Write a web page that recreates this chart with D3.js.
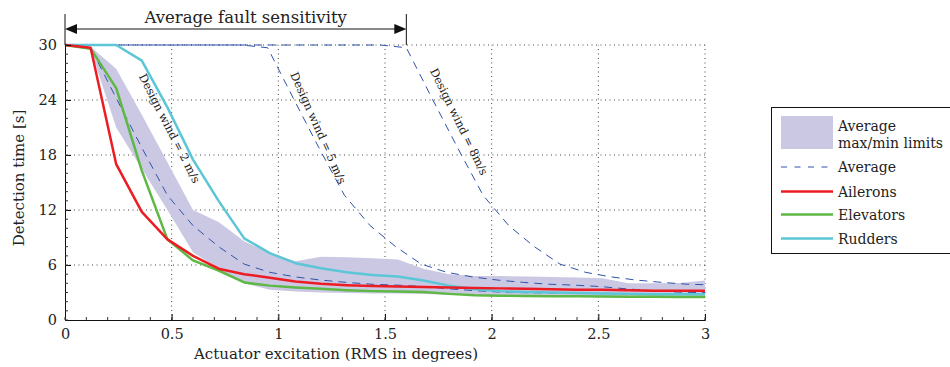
<!DOCTYPE html>
<html><head><meta charset="utf-8">
<script src="https://cdn.jsdelivr.net/npm/d3@7"></script>
<style>
body{margin:0;background:#fff;}
text{font-family:"DejaVu Serif",serif;fill:#222;}
</style></head>
<body><svg id="c" width="950" height="367"></svg>
<script>
// ---- data ----
const xs = [0,0.12,0.24,0.36,0.48,0.6,0.72,0.84,0.96,1.08,1.2,1.32,1.44,1.56,1.68,1.8,1.92,2.04,2.16,2.28,2.4,2.52,2.64,2.76,2.88,3.0];
const ailerons  = [30,29.7,17.0,11.8,8.8,7.0,5.6,5.0,4.6,4.2,3.95,3.8,3.7,3.65,3.6,3.55,3.5,3.45,3.4,3.35,3.3,3.3,3.25,3.2,3.2,3.2];
const elevators = [30,29.6,25.3,16.3,8.8,6.5,5.4,4.1,3.75,3.55,3.4,3.25,3.15,3.1,3.05,2.85,2.7,2.65,2.62,2.6,2.58,2.56,2.55,2.53,2.52,2.5];
const rudders   = [30,30,30,28.3,23.2,17.5,13.0,8.9,7.3,6.2,5.65,5.2,4.9,4.75,4.3,3.75,3.35,3.15,3.05,3.0,2.95,2.9,2.85,2.82,2.8,2.8];
const average   = [30,29.7,24.2,18.8,13.6,10.3,8.0,6.1,5.2,4.7,4.35,4.1,3.9,3.8,3.65,3.4,3.2,3.05,2.98,2.95,2.92,2.9,2.9,2.88,2.87,2.87];
const bandUpper = [30,29.8,27.4,22.4,17.2,12.0,10.7,8.6,7.3,6.4,6.9,6.85,6.75,6.6,5.6,5.0,4.8,4.8,4.75,4.7,4.65,4.55,4.0,4.0,4.05,4.3];
const bandLower = [30,29.5,21.0,16.5,12.0,7.4,5.6,4.0,3.3,3.1,3.0,2.95,2.9,2.9,2.85,2.75,2.7,2.65,2.62,2.6,2.58,2.56,2.55,2.53,2.52,2.5];
const wind5x = [0,0.83,0.95,1.07,1.19,1.31,1.43,1.55,1.67,1.79,1.91,2.03,2.15,2.27,2.39,2.51,2.63,2.75,2.87,3.0];
const wind5y = [30,30,29.7,24.2,18.8,13.6,10.3,8.0,6.1,5.2,4.7,4.35,4.1,3.9,3.8,3.65,3.4,3.2,3.05,2.98];
const wind8x = [0,1.48,1.6,1.72,1.84,1.96,2.08,2.2,2.32,2.44,2.56,2.68,2.8,2.92,3.0];
const wind8y = [30,30,29.7,24.2,18.8,13.6,10.3,8.0,6.1,5.2,4.7,4.35,4.1,3.9,3.85];
const xTicks = [0,0.5,1,1.5,2,2.5,3];
const xTickLabels = ["0","0.5","1","1.5","2","2.5","3"];
const yTicks = [0,6,12,18,24,30];
const legendLabels = ["Average","Ailerons","Elevators","Rudders"];
const sensitivityEnd = 1.6;

// ---- layout ----
const svg = d3.select("#c");
const L=65, R=705, T=45, B=320;
const x = d3.scaleLinear().domain([0,3]).range([L,R]);
const y = d3.scaleLinear().domain([0,30]).range([B,T]);
const C = {red:"#ec1c24", green:"#5db844", cyan:"#5bc6d6", band:"#cbc8e4", blue:"#2f52a8"};

// grid
const g = svg.append("g");
g.selectAll(".gx").data(xTicks.slice(1)).join("line")
  .attr("x1",d=>x(d)).attr("x2",d=>x(d)).attr("y1",B).attr("y2",T)
  .attr("stroke","#444").attr("stroke-width",1).attr("stroke-dasharray","1,3.5");
g.selectAll(".gy").data(yTicks.slice(1)).join("line")
  .attr("x1",L).attr("x2",R).attr("y1",d=>y(d)).attr("y2",d=>y(d))
  .attr("stroke","#444").attr("stroke-width",1).attr("stroke-dasharray","1,3.5");

// band
const area = d3.area().x((d,i)=>x(xs[i])).y0((d,i)=>y(bandLower[i])).y1((d,i)=>y(bandUpper[i]));
svg.append("path").attr("d",area(xs)).attr("fill",C.band);

const line = d3.line();
function path(xa, ya, color, w, dash){
  const p = svg.append("path").attr("d", line(xa.map((v,i)=>[x(v),y(ya[i])])))
    .attr("fill","none").attr("stroke",color).attr("stroke-width",w).attr("stroke-linejoin","round");
  if(dash) p.attr("stroke-dasharray",dash);
  return p;
}
path(wind5x, wind5y, C.blue, 1, "8,6");
path(wind8x, wind8y, C.blue, 1, "8,6").attr("stroke-dashoffset", 7);
path(xs, average, C.blue, 1, "8,6");
path(xs, rudders, C.cyan, 2.5);
path(xs, elevators, C.green, 2.5);
path(xs, ailerons, C.red, 2.5);

// axes
const ax = svg.append("g").attr("transform",`translate(0,${B})`)
  .call(d3.axisBottom(x).tickValues(xTicks).tickFormat((d,i)=>xTickLabels[i]).tickSize(-6).tickPadding(9));
const ay = svg.append("g").attr("transform",`translate(${L},0)`)
  .call(d3.axisLeft(y).tickValues(yTicks).tickSize(-6).tickPadding(8));
[ax,ay].forEach(a=>{
  a.select(".domain").attr("stroke","#111");
  a.selectAll(".tick line").attr("stroke","#111");
  a.selectAll("text").style("font-family","'DejaVu Serif',serif").style("font-size","14.5px").attr("fill","#222");
});
// minor ticks
svg.append("g").selectAll("line").data(d3.range(0,3.001,0.1)).join("line")
  .attr("x1",d=>x(d)).attr("x2",d=>x(d)).attr("y1",B).attr("y2",B-3).attr("stroke","#333");
svg.append("g").selectAll("line").data(d3.range(0,30.001,1)).join("line")
  .attr("x1",L).attr("x2",L+3).attr("y1",d=>y(d)).attr("y2",d=>y(d)).attr("stroke","#333");

// axis titles
svg.append("text").attr("x",336).attr("y",359).attr("text-anchor","middle")
  .style("font-size","15px").text("Actuator excitation (RMS in degrees)");
svg.append("text").attr("transform",`translate(24,178) rotate(-90)`).attr("text-anchor","middle")
  .style("font-size","15px").text("Detection time [s]");

// sensitivity annotation
const ya = 29;
svg.append("line").attr("x1",x(0)).attr("x2",x(0)).attr("y1",14).attr("y2",T).attr("stroke","#111");
svg.append("line").attr("x1",x(sensitivityEnd)).attr("x2",x(sensitivityEnd)).attr("y1",14).attr("y2",T).attr("stroke","#111");
svg.append("line").attr("x1",x(0)+10).attr("x2",x(sensitivityEnd)-10).attr("y1",ya).attr("y2",ya).attr("stroke","#111");
svg.append("path").attr("d",`M${x(0)},${ya} l12,-5 l0,10 z`).attr("fill","#111");
svg.append("path").attr("d",`M${x(sensitivityEnd)},${ya} l-12,-5 l0,10 z`).attr("fill","#111");
svg.append("text").attr("x",(x(0)+x(sensitivityEnd))/2 + 10).attr("y",23).attr("text-anchor","middle")
  .style("font-size","16.5px").text("Average fault sensitivity");

// design wind labels
const windLabels = [
  {t:"Design wind = 2 m/s", xv:0.345, yv:26.6, a:63},
  {t:"Design wind = 5 m/s", xv:1.055, yv:26.8, a:66},
  {t:"Design wind = 8m/s",  xv:1.71, yv:27.2, a:64}
];
svg.selectAll(".wl").data(windLabels).join("text")
  .attr("transform",d=>`translate(${x(d.xv)},${y(d.yv)}) rotate(${d.a})`)
  .style("font-size","11.5px").attr("fill","#333").text(d=>d.t);

// legend
const lg = svg.append("g");
lg.append("rect").attr("x",771.5).attr("y",107.5).attr("width",200).attr("height",146)
  .attr("fill","#fff").attr("stroke","#111");
lg.append("rect").attr("x",781).attr("y",116).attr("width",52).attr("height",33).attr("fill",C.band);
lg.append("text").attr("x",838).attr("y",131).style("font-size","14px").text("Average");
lg.append("text").attr("x",838).attr("y",148).style("font-size","14px").text("max/min limits");
const lgItems = [
  {c:C.blue, w:1, dash:"8,6", yy:167},
  {c:C.red, w:2.5, yy:191.5},
  {c:C.green, w:2.5, yy:214.5},
  {c:C.cyan, w:2.5, yy:238.5}
];
lgItems.forEach((d,i)=>{
  const l = lg.append("line").attr("x1",781).attr("x2",833).attr("y1",d.yy).attr("y2",d.yy)
    .attr("stroke",d.c).attr("stroke-width",d.w);
  if(d.dash) l.attr("stroke-dasharray","6,7.5");
  lg.append("text").attr("x",838).attr("y",d.yy+5).style("font-size","14px").text(legendLabels[i]);
});
</script></body></html>
